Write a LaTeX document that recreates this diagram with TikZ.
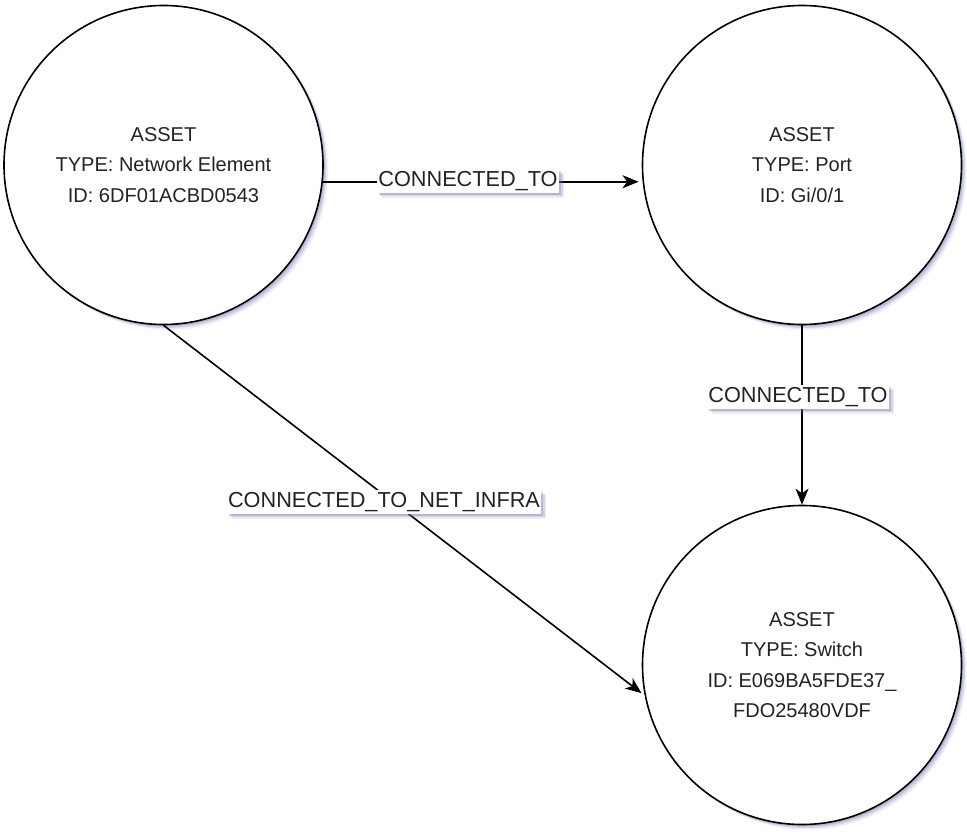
\documentclass[tikz,border=0pt]{standalone}
\usepackage{fontspec}
\setmainfont{Liberation Sans}
\usetikzlibrary{arrows.meta,shadows}
\definecolor{shadowc}{RGB}{110,110,170}
\definecolor{txt}{RGB}{35,35,35}
\tikzset{
  softshadow/.style={
    drop shadow={shadow xshift=2pt,shadow yshift=-2pt,fill=shadowc,opacity=0.28},
    drop shadow={shadow xshift=3.5pt,shadow yshift=-3.5pt,fill=shadowc,opacity=0.2},
    drop shadow={shadow xshift=5pt,shadow yshift=-5pt,fill=shadowc,opacity=0.12}},
  asset/.style={circle,draw=black,line width=1.6pt,fill=white,minimum size=319pt,inner sep=0pt,
    align=center,text=txt,font=\fontsize{20pt}{30.5pt}\selectfont,softshadow},
  elabel/.style={fill=white,text=txt,font=\fontsize{21.7pt}{24pt}\selectfont,inner xsep=1.5pt,
    inner ysep=2pt,softshadow},
  conn/.style={line width=1.6pt,-{Stealth[length=16pt,width=13pt,inset=4.5pt]}}
}
\begin{document}
\begin{tikzpicture}[x=1pt,y=-1pt]
\useasboundingbox (0,0) rectangle (967,832);
\node[asset] (ne) at (163.5,165) {ASSET\\TYPE: Network Element\\ID: 6DF01ACBD0543};
\node[asset] (port) at (802,165) {ASSET\\TYPE: Port\\ID: Gi/0/1};
\node[asset] (sw) at (802,665) {ASSET\\TYPE: Switch\\ID: E069BA5FDE37\_\\FDO25480VDF};
\draw[conn,shorten >=4pt] (ne.-6.1) -- (port.186.1);
\draw[conn] (port.south) -- (sw.north);
\draw[conn,shorten >=4pt] (ne.south) -- (sw.191.2);
\node[elabel] (l1) at (468,181) {CONNECTED\_TO};
\node[elabel] (l2) at (798,397) {CONNECTED\_TO};
\node[elabel] (l3) at (384,502) {CONNECTED\_TO\_NET\_INFRA};
\end{tikzpicture}
\end{document}
